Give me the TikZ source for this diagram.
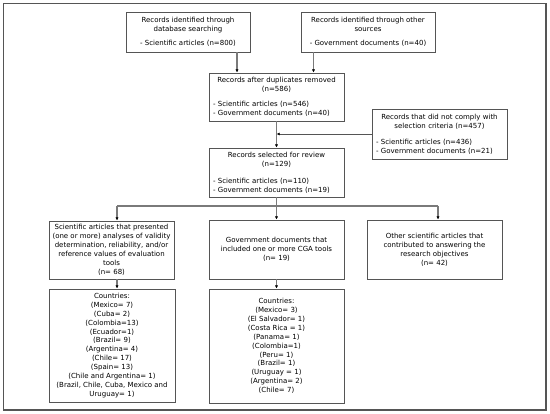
\documentclass[tikz,border=0pt]{standalone}
\usepackage{fontspec}
\setmainfont{DejaVu Sans}
\usetikzlibrary{arrows.meta,calc}
\definecolor{boxline}{HTML}{555555}
\definecolor{connline}{HTML}{7A7A7A}
\begin{document}
\begin{tikzpicture}[x=1pt,y=-1pt,
  every node/.style={font=\fontsize{7.0}{8.9}\selectfont},
  box/.style={draw=boxline, line width=0.9pt, inner xsep=1pt, inner ysep=0pt, align=center},
  conn/.style={draw=connline, line width=1.2pt, -{Latex[length=3.2pt,width=3.2pt,color=black]}},
  thin conn/.style={draw=boxline, line width=0.8pt, -{Latex[length=3.2pt,width=3.2pt,color=black]}}]
\useasboundingbox (0,0) rectangle (550,414);
\draw[draw=boxline, line width=1.4pt] (3.5,3.5) rectangle (546,410);

\node[box, minimum width=124pt, minimum height=40pt] (b1) at (188,32)
  {Records identified through\\database searching\\[5pt]- Scientific articles (n=800)};
\node[box, minimum width=134pt, minimum height=40pt] (b2) at (368,32)
  {Records identified through other\\sources\\[5pt]- Government documents (n=40)};
\node[box, text width=133pt, minimum height=48pt, align=left] (b3) at (276.5,97)
  {{\centering Records after duplicates removed\\(n=586)\par}\vspace{6pt}\hspace*{3pt}- Scientific articles (n=546)\\\hspace*{3pt}- Government documents (n=40)};
\node[box, text width=133pt, minimum height=50pt, align=left] (b4) at (439.5,134)
  {{\centering Records that did not comply with\\selection criteria (n=457)\par}\vspace{7pt}\hspace*{3pt}- Scientific articles (n=436)\\\hspace*{3pt}- Government documents (n=21)};
\node[box, text width=133pt, minimum height=49pt, align=left] (b5) at (276.5,172.5)
  {{\centering Records selected for review\\(n=129)\par}\vspace{8pt}\hspace*{3pt}- Scientific articles (n=110)\\\hspace*{3pt}- Government documents (n=19)};
\node[box, minimum width=125pt, minimum height=58pt] (b6) at (111.5,250)
  {Scientific articles that presented\\(one or more) analyses of validity\\determination, reliability, and/or\\reference values of evaluation\\tools\\(n= 68)};
\node[box, minimum width=135pt, minimum height=59pt] (b7) at (276.5,249.5)
  {Government documents that\\included one or more CGA tools\\(n= 19)};
\node[box, minimum width=135pt, minimum height=59pt] (b8) at (434.5,249.5)
  {Other scientific articles that\\contributed to answering the\\research objectives\\(n= 42)};
\node[box, minimum width=126pt, minimum height=113pt] (b9) at (112,345.5)
  {Countries:\\(Mexico= 7)\\(Cuba= 2)\\(Colombia=13)\\(Ecuador=1)\\(Brazil= 9)\\(Argentina= 4)\\(Chile= 17)\\(Spain= 13)\\(Chile and Argentina= 1)\\(Brazil, Chile, Cuba, Mexico and\\Uruguay= 1)};
\node[box, minimum width=135pt, minimum height=114pt] (b10) at (276.5,346)
  {Countries:\\(Mexico= 3)\\(El Salvador= 1)\\(Costa Rica = 1)\\(Panama= 1)\\(Colombia=1)\\(Peru= 1)\\(Brazil= 1)\\(Uruguay = 1)\\(Argentina= 2)\\(Chile= 7)};

\coordinate (xa) at (237,0);
\coordinate (xb) at (313.5,0);
\coordinate (xl) at (117,0);
\coordinate (xr) at (438,0);
\coordinate (jy) at (0,206);

\draw[conn] (b1.south -| xa) -- (b3.north -| xa);
\draw[conn] (b2.south -| xb) -- (b3.north -| xb);
\draw[conn] (b3.south) -- (b5.north);
\draw[thin conn] (b4.west) -- (b4.west -| b5.north);
\draw[draw=connline, line width=1.2pt] (b5.south) -- (b5.south |- jy);
\draw[draw=connline, line width=1.2pt] (jy -| xl) -- (jy -| xr);
\draw[conn] (jy -| xl) -- (b6.north -| xl);
\draw[conn] (jy -| b7.north) -- (b7.north);
\draw[conn] (jy -| xr) -- (b8.north -| xr);
\draw[conn] (b6.south -| xl) -- (b9.north -| xl);
\draw[conn] (b7.south) -- (b10.north);
\end{tikzpicture}
\end{document}
